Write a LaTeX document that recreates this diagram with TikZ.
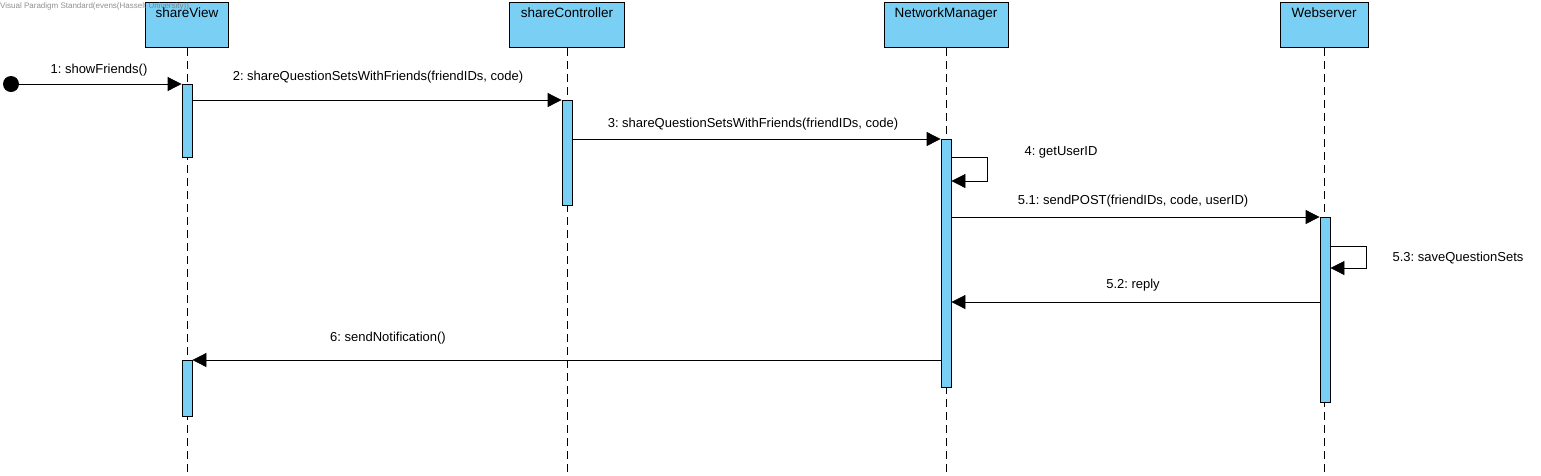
\documentclass[tikz,border=0pt]{standalone}
\usepackage{fontspec}
\setmainfont{Liberation Sans}
\usetikzlibrary{arrows.meta}
\definecolor{vpblue}{RGB}{122,207,245}
\frenchspacing
\begin{document}
\begin{tikzpicture}[x=1pt,y=-1pt,
  head/.style={draw, fill=vpblue, line width=1pt, inner xsep=0pt, inner ysep=3pt,
    text height=12pt, text depth=27pt, anchor=north, font=\fontsize{13.5}{15}\selectfont},
  act/.style={draw, fill=vpblue, line width=0.8pt, minimum width=10pt, inner sep=0pt, anchor=north},
  life/.style={line width=0.8pt, dash pattern=on 8pt off 5pt},
  msg/.style={line width=0.8pt, -{Triangle[length=14pt,width=14pt]}},
  lbl/.style={font=\fontsize{13}{15}\selectfont, inner sep=0pt},
  wm/.style={font=\fontsize{8}{9}\selectfont, text=black!55, inner sep=0pt, anchor=west}]
\useasboundingbox (0,0) rectangle (1541,475);
% heads
\node[head, minimum width=83pt] (hv) at (187,2) {shareView};
\node[head, minimum width=115pt] (hc) at (567,2) {shareController};
\node[head, minimum width=124pt] (hn) at (946,2) {NetworkManager};
\node[head, minimum width=88pt] (hw) at (1324,2) {Webserver};
% lifelines
\coordinate (bot) at (0,475);
\draw[life] (hv.south) -- (hv.south |- bot);
\draw[life] (hc.south) -- (hc.south |- bot);
\draw[life] (hn.south) -- (hn.south |- bot);
\draw[life] (hw.south) -- (hw.south |- bot);
% activations
\node[act, minimum height=73pt] (a1) at (187,84) {};
\node[act, minimum height=105pt] (a2) at (567,100) {};
\node[act, minimum height=248pt] (a3) at (946,139) {};
\node[act, minimum height=185pt] (a4) at (1325,217) {};
\node[act, minimum height=56pt] (a5) at (187,360) {};
% start
\node[circle, fill=black, inner sep=0pt, minimum size=16pt] (start) at (11,84) {};
% message levels
\coordinate (y4a) at (0,157);
\coordinate (y4b) at (0,181);
\coordinate (y53a) at (0,246);
\coordinate (y53b) at (0,268);
\coordinate (y52) at (0,302);
% messages
\draw[msg] (start.center) -- (a1.north west);
\draw[msg] (a1.east |- a2.north) -- (a2.north west);
\draw[msg] (a2.east |- a3.north) -- (a3.north west);
\draw[msg] (a3.east |- y4a) -- ++(36,0) |- (a3.east |- y4b);
\draw[msg] (a3.east |- a4.north) -- (a4.north west);
\draw[msg] (a4.east |- y53a) -- ++(36,0) |- (a4.east |- y53b);
\draw[msg] (a4.west |- y52) -- (a3.east |- y52);
\draw[msg] (a3.west |- a5.north) -- (a5.north east);
% labels
\node[lbl] (l1) at (99,70) {1: showFriends()};
\node[lbl] (l2) at (378,77) {2: shareQuestionSetsWithFriends(friendIDs, code)};
\node[lbl] (l3) at (753,124) {3: shareQuestionSetsWithFriends(friendIDs, code)};
\node[lbl] (l4) at (1061,152) {4: getUserID};
\node[lbl] (l51) at (1133,201) {5.1: sendPOST(friendIDs, code, userID)};
\node[lbl] (l53) at (1458,258) {5.3: saveQuestionSets};
\node[lbl] (l52) at (1133,285) {5.2: reply};
\node[lbl] (l6) at (388,338) {6: sendNotification()};
% watermark
\node[wm, opacity=0.8] (wmk) at (0,6) {Visual Paradigm Standard(evens(Hasselt University))};
\end{tikzpicture}
\end{document}
